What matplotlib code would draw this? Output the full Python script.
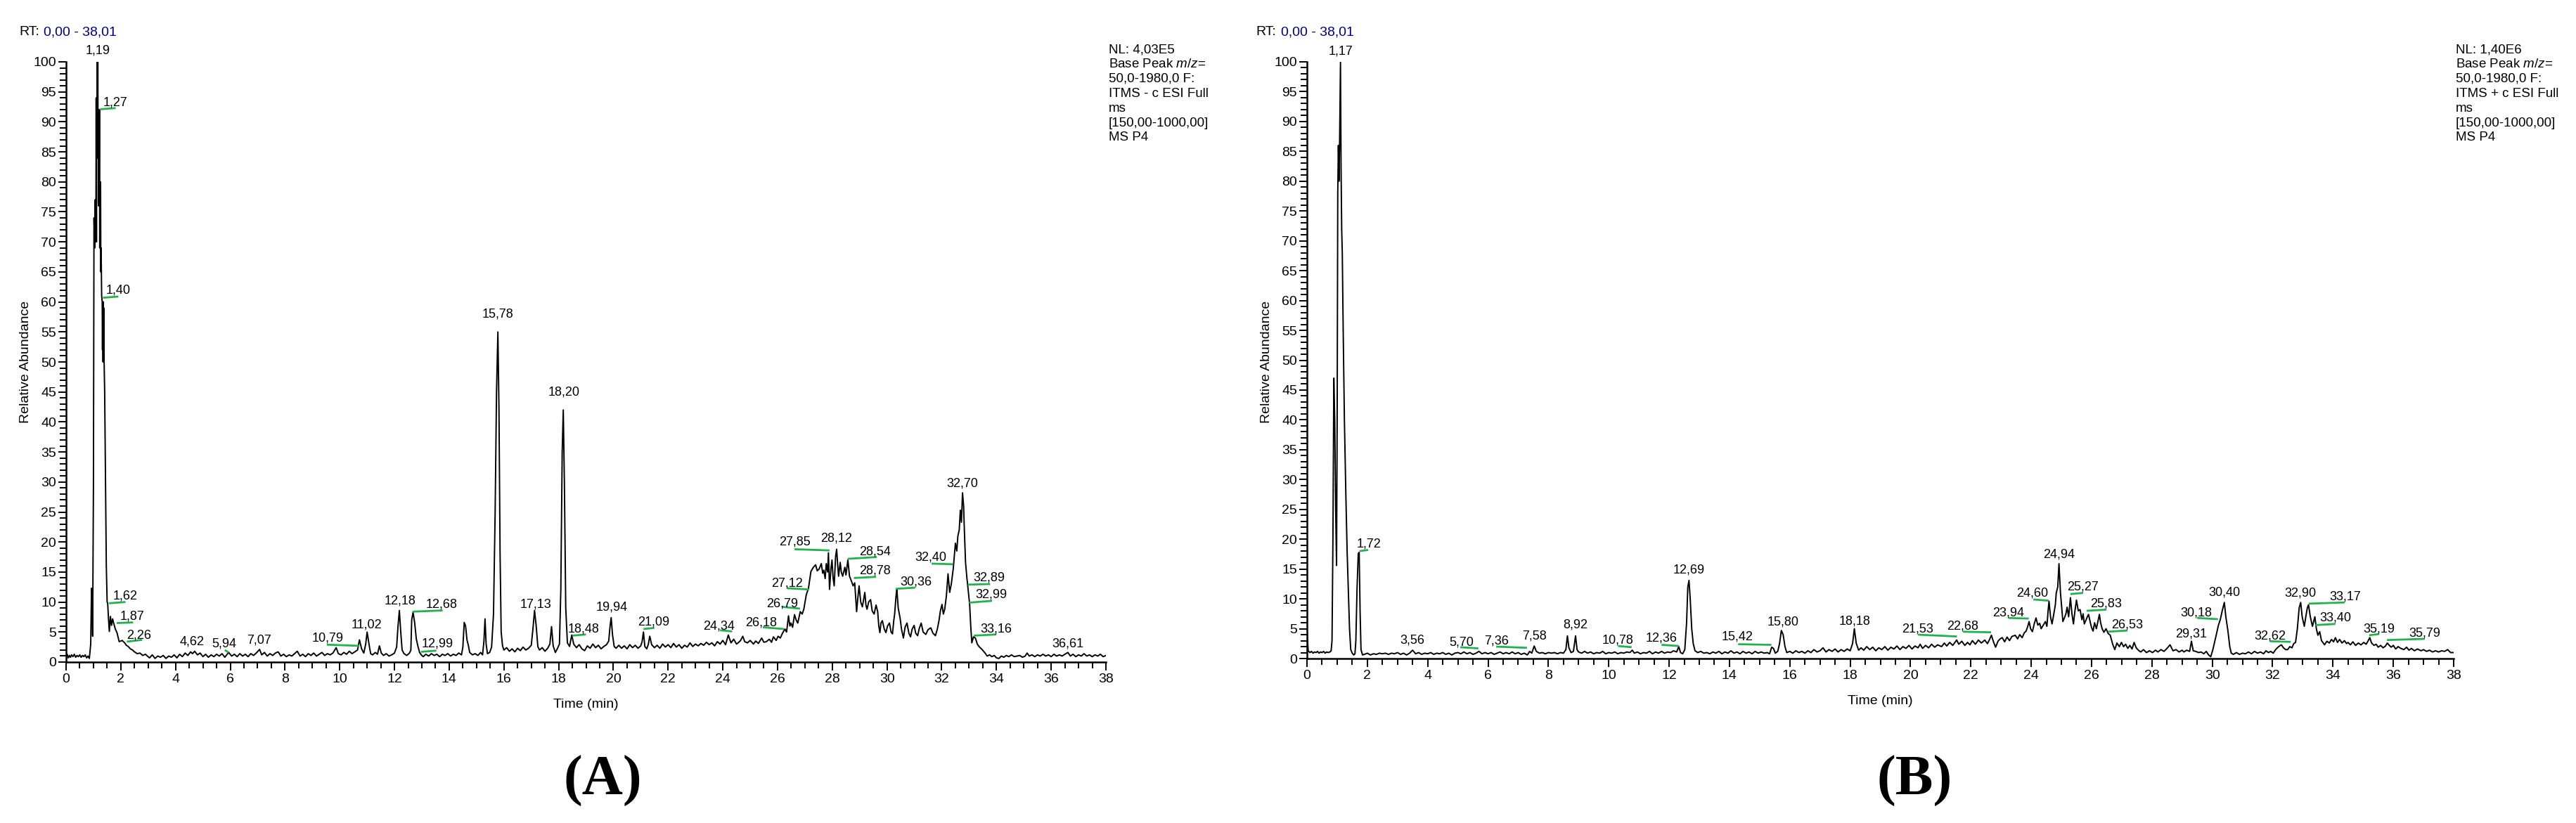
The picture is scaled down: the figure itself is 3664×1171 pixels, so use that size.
import matplotlib
matplotlib.use('Agg')
import matplotlib.pyplot as plt
from matplotlib.ticker import MultipleLocator

plt.rcParams['font.family'] = 'Liberation Sans'
plt.rcParams['mathtext.fontset'] = 'custom'
plt.rcParams['mathtext.it'] = 'Liberation Sans:italic'
plt.rcParams['mathtext.rm'] = 'Liberation Sans'

GREEN = '#22b24c'

# ---- panel A trace (time in min, relative abundance) ----
a_time = [0.00, 0.04, 0.08, 0.12, 0.16, 0.2, 0.25, 0.3, 0.35, 0.4, 0.45, 0.5, 0.55, 0.6, 0.65, 0.7, 0.75, 0.8, 0.85,
          0.90, 0.93, 0.95, 0.97, 1.00, 1.02, 1.03, 1.04, 1.05, 1.06, 1.07, 1.08, 1.09, 1.10, 1.11, 1.12, 1.13, 1.14,
          1.15, 1.16, 1.17, 1.18, 1.19, 1.20, 1.21, 1.22, 1.23, 1.24, 1.25, 1.26, 1.27, 1.28, 1.30, 1.32, 1.33, 1.34,
          1.35, 1.36, 1.37, 1.38, 1.39, 1.41, 1.44, 1.47, 1.50, 1.52, 1.55, 1.58, 1.62, 1.66, 1.70, 1.75, 1.80, 1.86,
          1.94, 2.05, 2.14, 2.2, 2.27, 2.35, 2.43, 2.5, 2.6, 2.7, 2.8, 2.9, 2.97,
          3.05, 3.15, 3.25, 3.35, 3.45, 3.55, 3.65, 3.75, 3.85, 3.95, 4.05, 4.15, 4.25, 4.35, 4.45, 4.55, 4.62, 4.7,
          4.8, 4.9, 5.0, 5.1, 5.2, 5.3, 5.4, 5.5, 5.6, 5.7, 5.8, 5.94, 6.05, 6.15, 6.25, 6.35, 6.45, 6.55, 6.65, 6.75,
          6.85, 6.95, 7.07, 7.15, 7.25, 7.35, 7.45, 7.55, 7.65, 7.75, 7.85, 7.95, 8.05, 8.15, 8.25, 8.35, 8.45, 8.55,
          8.65, 8.75, 8.85, 8.95, 9.05, 9.15, 9.25, 9.35, 9.45, 9.55, 9.65, 9.75, 9.87, 9.95, 10.05, 10.15, 10.25,
          10.35, 10.45, 10.55, 10.65, 10.72, 10.8, 10.88, 10.95, 11.0, 11.07, 11.13, 11.2, 11.3, 11.38, 11.45, 11.52,
          11.6, 11.7, 11.8, 11.9, 12.0, 12.08, 12.13, 12.18, 12.23, 12.28, 12.35, 12.45, 12.55, 12.6, 12.63, 12.68,
          12.74, 12.8, 12.86, 12.92, 12.98, 13.05, 13.15, 13.25, 13.35, 13.45, 13.55, 13.65, 13.75, 13.85, 13.95,
          14.05, 14.15, 14.25, 14.35, 14.45, 14.5, 14.55, 14.6, 14.65, 14.7, 14.75, 14.85, 14.95, 15.05, 15.15, 15.22,
          15.27, 15.31, 15.35, 15.4, 15.48, 15.55, 15.62, 15.68, 15.73, 15.78, 15.82, 15.86, 15.9, 15.95, 16.0, 16.1,
          16.2, 16.3, 16.4, 16.5, 16.6, 16.7, 16.8, 16.9, 17.0, 17.06, 17.12, 17.18, 17.24, 17.3, 17.4, 17.5, 17.6,
          17.68, 17.74, 17.8, 17.88, 17.95, 18.03, 18.08, 18.13, 18.17, 18.21, 18.26, 18.32, 18.4, 18.48, 18.55, 18.65,
          18.75, 18.85, 18.95, 19.05, 19.15, 19.25, 19.35, 19.45, 19.55, 19.65, 19.75, 19.83, 19.88, 19.92, 19.97,
          20.03, 20.1, 20.2, 20.3, 20.4, 20.5, 20.6, 20.7, 20.8, 20.9, 21.0, 21.05, 21.1, 21.15, 21.22, 21.28, 21.33,
          21.4, 21.5, 21.6, 21.7, 21.8, 21.9, 22.0, 22.1, 22.2, 22.3, 22.4, 22.5, 22.6, 22.7, 22.8, 22.9, 23.0, 23.1,
          23.2, 23.3, 23.4, 23.5, 23.6, 23.7, 23.8, 23.9, 24.0, 24.1, 24.2, 24.3, 24.4, 24.5, 24.56, 24.65, 24.73, 24.8,
          24.9, 25.0, 25.12, 25.2, 25.3, 25.42, 25.5, 25.59, 25.7, 25.78, 25.85, 25.95, 26.02, 26.1, 26.18, 26.27,
          26.33, 26.4, 26.45, 26.49, 26.55, 26.62, 26.68, 26.74, 26.83, 26.9, 26.96, 27.05, 27.13, 27.22, 27.31, 27.39,
          27.45, 27.52, 27.6, 27.65, 27.69, 27.74, 27.78, 27.83, 27.86, 27.9, 27.95, 27.99, 28.03, 28.07, 28.12, 28.16,
          28.2, 28.23, 28.29, 28.33, 28.38, 28.46, 28.5, 28.57, 28.63, 28.7, 28.76, 28.82, 28.89, 28.93, 28.98, 29.04,
          29.1, 29.15, 29.19, 29.23, 29.27, 29.33, 29.4, 29.46, 29.53, 29.6, 29.66, 29.7, 29.74, 29.78, 29.83, 29.9,
          29.96, 30.02, 30.09, 30.15, 30.2, 30.25, 30.28, 30.33, 30.36, 30.41, 30.48, 30.53, 30.6, 30.66, 30.73, 30.8,
          30.86, 30.92, 30.99, 31.05, 31.12, 31.18, 31.25, 31.32, 31.42, 31.5, 31.6, 31.68, 31.77, 31.84, 31.9, 31.95,
          32.01, 32.06, 32.11, 32.17, 32.23, 32.29, 32.35, 32.42, 32.5, 32.55, 32.59, 32.64, 32.68, 32.72, 32.76, 32.8,
          32.82, 32.87, 32.92, 32.96, 33.02, 33.06, 33.1, 33.16, 33.23, 33.3, 33.36, 33.45, 33.53, 33.6, 33.66, 33.75,
          33.83, 33.92, 34.0, 34.09, 34.18, 34.27, 34.36, 34.45, 34.55, 34.65, 34.75, 34.85, 34.95, 35.05, 35.12, 35.2,
          35.3, 35.4, 35.5, 35.6, 35.7, 35.8, 35.9, 36.0, 36.1, 36.2, 36.3, 36.4, 36.5, 36.61, 36.7, 36.8, 36.9, 37.0,
          37.1, 37.2, 37.3, 37.4, 37.5, 37.6, 37.7, 37.8, 37.9, 38.0]
a_int = [0.9, 1.3, 0.7, 1.1, 0.8, 1.2, 0.9, 1.3, 0.8, 1.1, 0.9, 1.2, 0.8, 1.1, 0.9, 1.2, 0.7, 1.0, 0.6,
         3.0, 12.3, 11.5, 4.3, 30, 74, 72, 74, 69, 77, 72, 77, 72, 94, 70, 94,
         84, 100, 84, 100, 84, 92, 76, 92, 76, 92, 69, 80, 69, 80, 65, 69, 61, 60, 52, 60,
         50, 60, 51, 59, 50, 45, 30, 16, 10, 9.8, 7.2, 5.1, 7.6, 6.1, 7.2, 6.3, 5.5, 4.9,
         3.4, 3.6, 3.2, 2.8, 2.6, 2.2, 2.0, 1.7, 1.4, 1.5, 1.1, 1.3, 1.0,
         0.7, 1.2, 0.6, 1.0, 0.8, 1.1, 0.6, 1.0, 0.8, 1.2, 0.7, 1.3, 0.9, 1.5, 1.1, 1.7, 1.4, 1.8,
         1.2, 1.5, 0.9, 1.3, 0.8, 1.2, 0.9, 1.3, 1.0, 1.4, 0.8, 1.6, 1.0, 1.3, 0.9, 1.4, 1.0, 1.3, 0.9, 1.4,
         1.1, 1.5, 2.1, 1.2, 1.6, 1.0, 1.4, 1.1, 1.5, 1.7, 1.0, 1.3, 0.9, 1.2, 1.0, 1.4, 1.8, 1.0,
         1.3, 0.9, 1.4, 1.1, 1.5, 1.0, 1.3, 1.6, 1.1, 1.4, 1.2, 1.5, 2.4, 1.4, 1.2, 1.6, 1.3,
         1.8, 1.4, 1.7, 2.0, 3.7, 2.2, 1.5, 3.0, 5.0, 3.0, 1.4, 1.2, 1.6, 1.3, 2.7, 1.5,
         1.1, 1.4, 1.0, 1.2, 1.5, 2.5, 6.0, 8.6, 5.0, 2.0, 1.4, 1.1, 1.5, 2.0, 7.0, 8.3,
         6.5, 3.8, 2.6, 1.6, 1.2, 0.9, 1.3, 1.0, 1.4, 1.1, 1.3, 0.9, 1.3, 1.1, 1.4,
         1.0, 1.3, 1.1, 1.5, 1.2, 2.5, 6.6, 6.0, 3.7, 2.8, 1.6, 1.2, 1.4, 1.1, 1.6, 1.2,
         3.5, 7.2, 3.0, 1.4, 1.6, 2.5, 8, 25, 45, 55, 42, 18, 5, 2.7, 2.0, 2.4,
         1.8, 2.2, 1.7, 2.3, 1.9, 2.5, 2.0, 2.3, 2.8, 5.5, 8.6, 6.0, 2.6, 2.0, 2.4, 1.8, 2.3,
         3.0, 5.9, 2.7, 1.6, 2.2, 3.0, 12, 35, 42, 30, 9, 3.2, 2.6, 4.5, 3.0, 2.4,
         2.9, 2.2, 1.9, 2.7, 2.3, 3.0, 2.4, 2.8, 2.2, 2.6, 2.9, 3.5, 6.0, 7.4, 4.5,
         2.6, 2.3, 2.8, 2.3, 2.7, 2.2, 2.9, 2.4, 2.8, 2.3, 2.7, 3.4, 5.0, 2.6, 2.2, 3.0, 4.3,
         2.9, 2.4, 2.8, 2.3, 3.0, 2.5, 2.9, 2.4, 3.1, 2.5, 2.9, 2.3, 2.8, 2.5, 3.2, 2.6, 3.0, 2.7,
         3.1, 2.8, 3.3, 2.9, 3.2, 2.7, 3.4, 3.0, 3.6, 2.9, 4.5, 3.2, 3.8, 3.0, 3.2, 3.6, 4.3, 3.4,
         3.2, 3.6, 3.0, 3.5, 3.1, 4.0, 3.3, 3.4, 3.8, 3.3, 4.2, 3.6, 4.3, 4.0, 4.8, 5.5,
         5.0, 7.7, 6.0, 6.5, 5.8, 7.9, 7.0, 6.5, 8.4, 8.0, 8.8, 11.2, 12.3, 15.1, 15.8, 16.2,
         15.2, 15.5, 16.4, 14.8, 15.3, 13.9, 16.4, 15.0, 18.2, 12.1, 15.5, 17.0, 14.0, 12.7, 17.5, 18.8,
         16.0, 14.3, 16.6, 15.0, 14.3, 15.8, 14.5, 17.0, 14.3, 13.5, 12.7, 13.2, 8.4, 10.5, 12.7, 10.0,
         9.2, 10.5, 11.6, 9.5, 8.8, 10.0, 10.4, 8.5, 8.0, 9.5, 8.4, 6.0, 4.9, 6.5, 6.9, 5.5,
         4.9, 6.0, 6.5, 5.0, 4.7, 7.0, 8.0, 11.0, 12.1, 9.0, 7.3, 5.5, 4.0, 5.8, 6.5, 4.8,
         4.2, 5.5, 6.1, 4.8, 4.4, 5.6, 6.5, 5.0, 4.6, 5.4, 5.7, 4.8, 4.4, 5.5, 6.9, 8.5,
         9.6, 8.0, 8.8, 11.0, 14.7, 11.6, 13.0, 15.5, 19.8, 18.5, 21.0, 22.0, 25.3, 23.3, 28.2, 26.0,
         23.0, 16.6, 14.0, 12.3, 9.6, 6.0, 3.2, 4.2, 4.0, 3.0, 2.6, 2.2, 1.8, 1.4, 1.0, 1.2,
         0.9, 1.1, 0.7, 0.6, 1.0, 0.8, 1.1, 0.9, 1.2, 0.9, 1.0, 1.1, 0.8, 1.0, 1.5, 1.0,
         1.2, 0.9, 1.2, 1.0, 1.3, 1.0, 1.2, 0.9, 1.3, 1.0, 1.2, 1.0, 1.3, 1.6, 1.0, 1.3, 0.9, 1.2,
         1.0, 1.4, 1.0, 1.2, 0.9, 1.2, 1.0, 1.3, 0.9, 1.1]

# ---- panel B trace ----
b_time = [0.0, 0.04, 0.1, 0.15, 0.2, 0.25, 0.3, 0.35, 0.4, 0.45, 0.5, 0.55, 0.6, 0.65, 0.7, 0.76, 0.8, 0.83, 0.86,
          0.89, 0.92, 0.95, 0.98, 1.0, 1.02, 1.04, 1.06, 1.08, 1.11, 1.13, 1.15, 1.17, 1.2, 1.24, 1.29, 1.33, 1.37,
          1.41, 1.45, 1.5, 1.55, 1.59, 1.62, 1.66, 1.70, 1.73, 1.76, 1.79, 1.84,
          1.9, 2.0, 2.1, 2.2, 2.3, 2.4, 2.5, 2.6, 2.7, 2.8, 2.9, 3.0, 3.1, 3.2, 3.3, 3.4, 3.5, 3.6, 3.7, 3.8, 3.9,
          4.0, 4.1, 4.2, 4.3, 4.4, 4.5, 4.6, 4.7, 4.8, 4.9, 5.0, 5.1, 5.2, 5.3, 5.4, 5.5, 5.6, 5.7, 5.8, 5.9, 6.0,
          6.1, 6.2, 6.3, 6.4, 6.5, 6.6, 6.7, 6.8, 6.9, 7.0, 7.1, 7.2, 7.3, 7.38, 7.45, 7.53, 7.6, 7.7, 7.8, 7.9, 8.0,
          8.1, 8.2, 8.3, 8.4, 8.5, 8.58, 8.63, 8.68, 8.75, 8.83, 8.9, 8.95, 9.0, 9.1, 9.2, 9.3, 9.4, 9.5, 9.6, 9.7,
          9.8, 9.9, 10.0, 10.1, 10.2, 10.3, 10.4, 10.5, 10.6, 10.7, 10.78, 10.85, 10.95, 11.05, 11.15, 11.25, 11.35,
          11.45, 11.55, 11.65, 11.75, 11.85, 11.95, 12.05, 12.15, 12.25, 12.32, 12.38, 12.45, 12.52, 12.58, 12.62,
          12.66, 12.7, 12.75, 12.8, 12.86, 12.95, 13.05, 13.15, 13.25, 13.35, 13.45, 13.55, 13.65, 13.75, 13.85,
          13.95, 14.05, 14.15, 14.25, 14.35, 14.45, 14.55, 14.65, 14.75, 14.85, 14.95, 15.05, 15.15, 15.25, 15.33,
          15.4, 15.46, 15.52, 15.6, 15.66, 15.72, 15.78, 15.84, 15.9, 16.0, 16.1, 16.2, 16.3, 16.4, 16.5, 16.6, 16.7,
          16.8, 16.9, 17.0, 17.1, 17.2, 17.3, 17.4, 17.5, 17.6, 17.7, 17.8, 17.9, 18.0, 18.08, 18.14, 18.2, 18.28,
          18.36, 18.45, 18.55, 18.65, 18.75, 18.85, 18.95, 19.05, 19.15, 19.25, 19.35, 19.45, 19.55, 19.65, 19.75,
          19.85, 19.95, 20.05, 20.15, 20.25, 20.32, 20.4, 20.5, 20.6, 20.7, 20.8, 20.9, 21.03, 21.12, 21.2, 21.3,
          21.4, 21.53, 21.6, 21.7, 21.8, 21.89, 21.97, 22.05, 22.15, 22.25, 22.35, 22.46, 22.55, 22.62, 22.68, 22.75,
          22.82, 22.9, 22.97, 23.04, 23.12, 23.2, 23.28, 23.36, 23.47, 23.55, 23.62, 23.7, 23.77, 23.83, 23.88, 23.93,
          23.98, 24.04, 24.1, 24.16, 24.22, 24.28, 24.33, 24.4, 24.47, 24.52, 24.56, 24.59, 24.64, 24.69, 24.75,
          24.8, 24.83, 24.88, 24.92, 24.97, 25.02, 25.05, 25.1, 25.15, 25.19, 25.24, 25.3, 25.35, 25.4, 25.45, 25.5,
          25.56, 25.62, 25.68, 25.72, 25.76, 25.82, 25.86, 25.9, 25.96, 26.0, 26.05, 26.1, 26.16, 26.21, 26.26, 26.3,
          26.35, 26.41, 26.48, 26.55, 26.62, 26.7, 26.77, 26.84, 26.92, 26.99, 27.06, 27.13, 27.2, 27.27, 27.34,
          27.41, 27.48, 27.55, 27.63, 27.72, 27.82, 27.92, 28.02, 28.12, 28.2, 28.3, 28.4, 28.5, 28.6, 28.7, 28.8,
          28.9, 29.0, 29.06, 29.15, 29.25, 29.31, 29.37, 29.45, 29.55, 29.63, 29.72, 29.8, 29.88, 29.95, 30.02, 30.08,
          30.13, 30.2, 30.27, 30.33, 30.4, 30.45, 30.52, 30.58, 30.63, 30.7, 30.8, 30.9, 31.0, 31.1, 31.2, 31.3, 31.4,
          31.5, 31.6, 31.7, 31.78, 31.86, 31.94, 32.02, 32.1, 32.2, 32.29, 32.36, 32.43, 32.5, 32.57, 32.64, 32.7,
          32.76, 32.82, 32.88, 32.93, 32.98, 33.05, 33.1, 33.15, 33.19, 33.25, 33.32, 33.36, 33.4, 33.45, 33.5, 33.56,
          33.62, 33.68, 33.72, 33.8, 33.88, 33.95, 34.02, 34.08, 34.15, 34.22, 34.3, 34.38, 34.45, 34.5, 34.58, 34.66,
          34.75, 34.84, 34.93, 35.02, 35.1, 35.17, 35.22, 35.28, 35.36, 35.43, 35.5, 35.58, 35.66, 35.74, 35.8, 35.85,
          35.93, 36.0, 36.08, 36.16, 36.25, 36.35, 36.44, 36.52, 36.6, 36.7, 36.8, 36.92, 37.0, 37.1, 37.2, 37.3, 37.4,
          37.5, 37.6, 37.7, 37.8, 37.9, 38.0]
b_int = [4.6, 1.3, 1.0, 1.2, 0.9, 1.1, 1.0, 1.2, 0.9, 1.1, 1.0, 1.2, 0.9, 1.1, 1.0, 1.1, 1.3, 3, 20,
         47, 40, 25, 15.6, 40, 78, 86, 80, 86, 100, 82, 72, 68, 55, 40, 27, 18, 11.3,
         5, 1.5, 0.9, 0.6, 0.8, 3, 12, 17.6, 17.8, 8, 1.5, 0.6,
         0.7, 0.9, 0.6, 0.8, 0.7, 0.9, 0.8, 0.9, 0.7, 0.9, 0.8, 1.0, 0.7, 0.9, 0.6, 0.9, 1.4, 0.8, 1.0, 0.7, 0.9,
         0.8, 1.0, 0.7, 0.9, 0.8, 1.0, 0.7, 0.9, 0.6, 0.9, 1.0, 0.8, 1.1, 0.8, 1.0, 0.7, 0.9, 1.2, 0.8, 1.0, 0.8,
         1.0, 0.7, 0.9, 1.1, 0.8, 1.0, 0.8, 1.1, 0.8, 1.0, 0.7, 0.9, 0.6, 1.2, 0.9, 2.1, 1.2, 0.9, 1.0, 0.8, 1.0,
         0.9, 1.0, 0.8, 1.0, 0.9, 1.5, 3.8, 1.8, 1.0, 1.2, 3.8, 1.5, 1.1, 0.9, 1.2, 0.9, 1.1, 0.8, 1.0, 0.9,
         1.2, 0.8, 1.0, 0.9, 1.1, 0.8, 1.0, 0.9, 1.1, 1.0, 1.4, 0.9, 1.1, 0.8, 1.0, 0.9, 1.2,
         0.8, 1.1, 0.9, 1.2, 0.9, 1.1, 1.0, 1.3, 1.1, 2.0, 1.0, 0.8, 1.5, 6, 12,
         13.1, 10, 5, 2.5, 1.3, 1.0, 1.2, 0.9, 1.0, 0.8, 1.1, 0.9, 1.2, 0.8, 1.1,
         0.9, 1.3, 0.9, 1.1, 0.8, 1.2, 0.9, 1.1, 0.8, 1.2, 0.9, 1.1, 0.9, 1.0, 0.8,
         1.9, 1.7, 0.9, 1.2, 2.5, 4.7, 4.0, 2.0, 1.0, 1.2, 0.9, 1.3, 1.0, 1.2, 0.9, 1.3, 1.0,
         1.5, 1.1, 1.3, 1.8, 1.1, 1.5, 1.2, 1.6, 1.1, 1.5, 1.2, 1.6, 1.3, 2.5, 5.0, 2.6, 1.4,
         1.8, 1.4, 2.0, 1.5, 1.9, 1.3, 1.8, 1.5, 2.0, 1.4, 1.9, 1.6, 2.1, 1.5, 2.0,
         1.7, 2.2, 1.6, 2.1, 1.8, 2.4, 1.7, 2.2, 1.8, 2.4, 1.9, 2.3, 2.0, 2.6, 2.1, 2.7,
         2.2, 3.1, 2.4, 2.9, 2.2, 2.7, 2.3, 3.0, 2.4, 3.1, 2.6, 3.1, 2.5, 3.2, 3.9, 2.8,
         1.9, 2.9, 3.3, 3.5, 2.8, 3.6, 3.0, 3.7, 3.9, 3.3, 4.0, 3.5, 4.3, 4.6, 5.3, 6.2,
         5.0, 4.5, 5.8, 6.8, 5.6, 5.9, 5.0, 5.6, 6.2, 5.4, 8.0, 9.6, 7.0, 5.8, 7.5,
         9.0, 11.0, 12.0, 15.9, 11.0, 8.0, 6.2, 6.8, 7.5, 8.6, 7.0, 10.2, 7.5, 5.8, 8.0, 9.8,
         8.0, 8.2, 6.5, 7.5, 5.8, 6.5, 7.0, 7.4, 6.0, 5.2, 4.6, 6.0, 5.0, 6.2, 7.4, 6.0,
         5.0, 4.4, 5.0, 4.2, 3.9, 2.4, 1.5, 2.6, 2.0, 2.7, 2.0, 2.4, 1.7, 2.2, 1.6,
         2.7, 1.8, 1.4, 1.1, 1.5, 1.0, 1.3, 1.0, 1.4, 1.1, 1.5, 1.2, 1.7, 2.3, 1.3, 1.5,
         1.1, 1.4, 1.1, 1.4, 1.2, 2.9, 1.3, 1.2, 1.0, 1.1, 0.8, 1.2, 0.6, 0.3, 1.5, 2.8,
         3.9, 5.5, 6.6, 8.0, 9.4, 7.0, 4.6, 2.0, 0.9, 0.7, 1.0, 0.7, 0.9, 0.8, 1.1, 0.8, 1.2,
         0.9, 1.1, 0.8, 1.3, 1.0, 1.2, 0.9, 1.5, 2.0, 2.3, 1.8, 1.5, 1.5, 2.0, 1.8, 2.5,
         2.7, 5.0, 8.5, 9.4, 7.0, 5.4, 7.0, 8.5, 9.0, 7.0, 5.4, 6.2, 7.0, 5.0, 3.9, 4.5,
         3.0, 2.6, 2.3, 2.9, 2.6, 3.2, 2.8, 3.5, 2.7, 3.2, 2.6, 3.0, 2.5, 2.7, 2.3, 2.8,
         2.2, 2.6, 2.3, 2.7, 2.4, 3.0, 3.5, 2.6, 2.2, 2.4, 1.9, 2.2, 1.8, 2.1, 2.6, 2.3,
         1.9, 2.2, 1.6, 2.0, 1.7, 1.5, 1.9, 1.4, 1.7, 1.3, 1.6, 1.3, 1.5, 1.2, 1.4, 1.1, 1.3,
         1.1, 1.3, 1.2, 1.5, 1.0, 1.0]

# ---- peak labels: text, x (min), y (abundance) ----
a_lab_text = ['1,19', '1,27', '1,40', '1,62', '1,87', '2,26', '4,62', '5,94', '7,07', '10,79', '11,02', '12,18',
              '12,68', '12,99', '15,78', '17,13', '18,20', '18,48', '19,94', '21,09', '24,34', '26,18', '26,79',
              '27,12', '27,85', '28,12', '28,54', '28,78', '30,36', '32,40', '32,70', '32,89', '32,99', '33,16',
              '36,61']
a_lab_x = [1.17, 1.81, 1.91, 2.17, 2.42, 2.67, 4.6, 5.78, 7.06, 9.55, 10.99, 12.2,
           13.73, 13.56, 15.78, 17.17, 18.2, 18.9, 19.95, 21.47, 23.87, 25.41, 26.16,
           26.35, 26.62, 28.14, 29.57, 29.57, 31.07, 31.6, 32.76, 33.73, 33.81, 33.98,
           36.6]
a_lab_y = [101.9, 93.2, 62.0, 11.0, 7.6, 4.5, 3.4, 3.0, 3.6, 4.0, 6.2, 10.2,
           9.6, 3.0, 58.0, 9.6, 45.0, 5.5, 9.1, 6.7, 6.0, 6.5, 9.7,
           13.1, 20.0, 20.6, 18.4, 15.2, 13.4, 17.5, 29.7, 14.0, 11.2, 5.5,
           3.0]
# green baseline ticks under labels: x1, y1, x2, y2
a_green = [(1.24, 92.1, 1.81, 92.3), (1.35, 60.7, 1.91, 60.9), (1.57, 9.8, 2.17, 10.0), (1.85, 6.5, 2.45, 6.6),
           (2.22, 3.4, 2.78, 3.7), (5.8, 2.0, 5.94, 1.6), (9.53, 2.9, 10.71, 2.7), (12.66, 8.4, 13.76, 8.6),
           (12.97, 1.7, 13.53, 1.9), (18.5, 4.4, 19.0, 4.6), (21.1, 5.5, 21.5, 5.7), (23.9, 5.3, 24.34, 5.1),
           (25.46, 5.8, 26.24, 5.5), (26.16, 9.2, 26.82, 8.9), (26.35, 12.3, 27.15, 12.1),
           (26.62, 18.8, 27.9, 18.6), (28.56, 17.2, 29.63, 17.5), (28.79, 14.0, 29.6, 14.2),
           (30.32, 12.2, 31.03, 12.4), (31.63, 16.4, 32.4, 16.3), (32.95, 12.9, 33.77, 13.0),
           (33.0, 9.9, 33.84, 10.2), (33.17, 4.4, 34.0, 4.6)]

b_lab_text = ['1,17', '1,72', '3,56', '5,70', '7,36', '7,58', '8,92', '10,78', '12,36', '12,69', '15,42', '15,80',
              '18,18', '21,53', '22,68', '23,94', '24,60', '24,94', '25,27', '25,83', '26,53', '29,31', '30,18',
              '30,40', '32,62', '32,90', '33,17', '33,40', '35,19', '35,79']
b_lab_x = [1.11, 2.04, 3.48, 5.11, 6.27, 7.53, 8.9, 10.31, 11.75, 12.65, 14.25, 15.77,
           18.16, 20.24, 21.74, 23.25, 24.03, 24.92, 25.72, 26.47, 27.19, 29.29, 29.47,
           30.4, 31.91, 32.91, 34.41, 34.09, 35.52, 37.04]
b_lab_y = [101.8, 19.2, 3.1, 2.7, 3.0, 3.8, 5.6, 3.1, 3.4, 14.8, 3.6, 6.1,
           6.2, 4.9, 5.4, 7.7, 10.9, 17.4, 12.0, 9.2, 5.6, 4.1, 7.7,
           11.1, 3.8, 10.9, 10.4, 6.8, 4.9, 4.2]
b_green = [(1.74, 18.0, 2.03, 18.2), (5.08, 1.9, 5.68, 1.7), (6.27, 2.0, 7.29, 1.8), (10.31, 2.1, 10.76, 1.9),
           (11.75, 2.3, 12.32, 2.1), (14.29, 2.4, 15.39, 2.3), (20.25, 4.0, 21.54, 3.7), (21.74, 4.5, 22.67, 4.4),
           (23.25, 6.8, 23.92, 6.7), (24.07, 9.9, 24.58, 9.7), (25.3, 10.8, 25.72, 11.0), (25.84, 8.0, 26.49, 8.2),
           (26.55, 4.5, 27.19, 4.7), (29.5, 6.8, 30.19, 6.6), (31.91, 2.9, 32.6, 2.8), (33.2, 9.2, 34.39, 9.4),
           (33.42, 5.6, 34.08, 5.8), (35.2, 3.9, 35.52, 4.1), (35.79, 3.1, 37.04, 3.3)]

a_info = 'NL: 4,03E5\nBase Peak $m/z$=\n50,0-1980,0 F:\nITMS - c ESI Full\nms\n[150,00-1000,00]\nMS P4'
b_info = 'NL: 1,40E6\nBase Peak $m/z$=\n50,0-1980,0 F:\nITMS + c ESI Full\nms\n[150,00-1000,00]\nMS P4'

W, H = 3664, 1171
fig = plt.figure(figsize=(W / 100, H / 100), dpi=100)


def draw_panel(rect, t, v, lab_text, lab_x, lab_y, green):
    ax = fig.add_axes(rect)
    ax.plot(t, v, color='black', lw=1.4)
    for x1, y1, x2, y2 in green:
        ax.plot([x1, x2], [y1, y2], color=GREEN, lw=2.0, solid_capstyle='butt')
    for s, x, y in zip(lab_text, lab_x, lab_y):
        ax.text(x, y, s, ha='center', va='center', fontsize=13, clip_on=False)
    ax.set_xlim(0, 38)
    ax.set_ylim(0, 100)
    for side in ['top', 'right']:
        ax.spines[side].set_visible(False)
    for side in ['left', 'bottom']:
        ax.spines[side].set_linewidth(1.8)
    ax.xaxis.set_major_locator(MultipleLocator(2))
    ax.xaxis.set_minor_locator(MultipleLocator(0.5))
    ax.yaxis.set_major_locator(MultipleLocator(5))
    ax.yaxis.set_minor_locator(MultipleLocator(1))
    ax.tick_params(axis='both', which='major', direction='out', width=1.4, labelsize=14)
    ax.tick_params(axis='x', which='major', length=8.5, pad=3)
    ax.tick_params(axis='y', which='major', length=8, pad=2)
    ax.tick_params(axis='x', which='minor', direction='out', length=6.5, width=1.4)
    ax.tick_params(axis='y', which='minor', direction='out', length=6.5, width=1.4)
    return ax


ax_a = draw_panel([94 / W, 1 - 942 / H, (1573 - 94) / W, (942 - 88) / H],
                  a_time, a_int, a_lab_text, a_lab_x, a_lab_y, a_green)
ax_b = draw_panel([1859 / W, 1 - 937 / H, (3490 - 1859) / W, (937 - 88) / H],
                  b_time, b_int, b_lab_text, b_lab_x, b_lab_y, b_green)

# axis titles, header and info text
for x_ax, x_rt, x_blue, x_info, info, x_tag, tag in [(94, 27, 62, 1577, a_info, 857, '(A)'),
                                                        (1859, 1786, 1822, 3493, b_info, 2723, '(B)')]:
    fig.text((x_ax - 57) / W, 1 - 515 / H, 'Relative Abundance', rotation=90,
             ha='center', va='center', fontsize=14)
    fig.text(x_rt / W, 1 - 46 / H, 'RT:', ha='left', va='center', fontsize=14)
    fig.text(x_blue / W, 1 - 46 / H, '0,00 - 38,01', ha='left', va='center', fontsize=14, color='#000080')
    fig.text(x_info / W, 1 - 62 / H, info, ha='left', va='top', fontsize=13.5, linespacing=1.3)
    fig.text(x_tag / W, 1 - 1111 / H, tag, ha='center', va='center', fontsize=58,
             family='Liberation Serif', fontweight='bold')

ax_a.set_xlabel('Time (min)', fontsize=14, labelpad=14)
ax_b.set_xlabel('Time (min)', fontsize=14, labelpad=14)

fig.savefig('out.png', dpi=100)
